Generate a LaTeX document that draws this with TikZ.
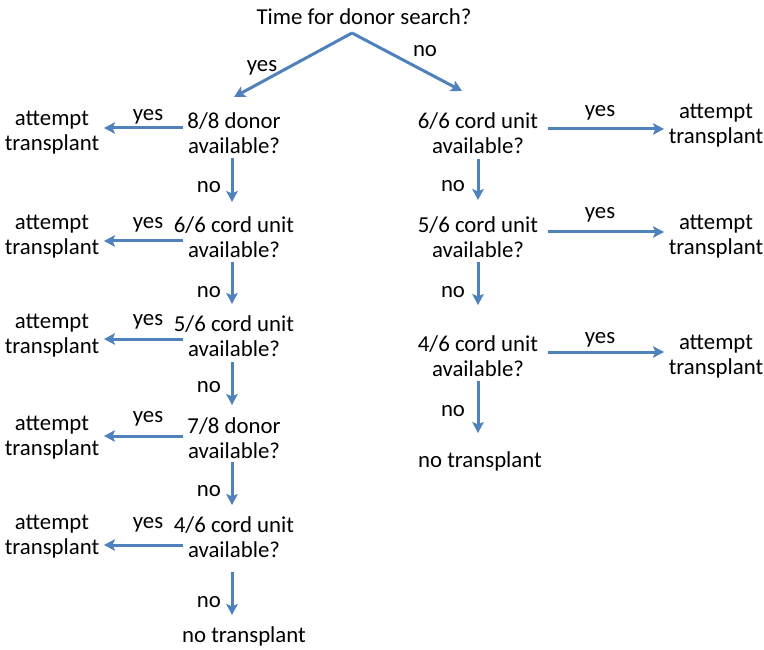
\documentclass[tikz,border=0pt]{standalone}
\usepackage{fontspec}
\setmainfont{Carlito}
\usetikzlibrary{arrows.meta}
\definecolor{arrowblue}{RGB}{79,129,189}
\begin{document}
\begin{tikzpicture}[x=1pt,y=-1pt,
  txt/.style={align=center,inner sep=0pt,font=\fontsize{22.8}{25}\selectfont},
  lbl/.style={inner sep=0pt,font=\fontsize{22.8}{25}\selectfont},
  arr/.style={draw=arrowblue,line width=3pt,-{Stealth[length=11pt,width=11.5pt,inset=2.5pt]}}]
\useasboundingbox[fill=white] (0,0) rectangle (764,650);
% title
\node[txt] (title) at (364,17) {Time for donor search?};
\coordinate (apex) at (352,33);
\coordinate (lt) at (234,97);
\coordinate (rt) at (462,91);
\draw[arr] (apex) -- (lt);
\draw[arr] (apex) -- (rt);
\node[lbl] (ytop) at (262,68) {yes};
\node[lbl] (ntop) at (425,51) {no};
% left column questions
\node[txt] (q1) at (234,133) {8/8 donor\\available?};
\node[txt] (q2) at (234,237) {6/6 cord unit\\available?};
\node[txt] (q3) at (234,336) {5/6 cord unit\\available?};
\node[txt] (q4) at (234,438) {7/8 donor\\available?};
\node[txt] (q5) at (234,537) {4/6 cord unit\\available?};
\node[txt] (nt1) at (244,636) {no transplant};
% left attempt
\node[txt] (a1) at (52,133) {attempt\\transplant};
\node[txt] (a2) at (52,237) {attempt\\transplant};
\node[txt] (a3) at (52,336) {attempt\\transplant};
\node[txt] (a4) at (52,438) {attempt\\transplant};
\node[txt] (a5) at (52,537) {attempt\\transplant};
% left yes arrows
\foreach \i/\yy/\ly in {1/128/117,2/241/225,3/339/322,4/436/419,5/545/525}{
  \coordinate (ls\i) at (183,\yy);
  \coordinate (le\i) at (104,\yy);
  \draw[arr] (ls\i) -- (le\i);
  \node[lbl] (ly\i) at (148,\ly) {yes};
}
% left down arrows
\foreach \i/\ys/\ye/\ny in {1/158/202/187,2/262/304/292,3/362/405/387,4/462/505/491,5/572/615/602}{
  \coordinate (ds\i) at (232,\ys);
  \coordinate (de\i) at (232,\ye);
  \draw[arr] (ds\i) -- (de\i);
  \node[lbl] (ln\i) at (209,\ny) {no};
}
% right column
\node[txt] (r1) at (478,133) {6/6 cord unit\\available?};
\node[txt] (r2) at (478,237) {5/6 cord unit\\available?};
\node[txt] (r3) at (478,356) {4/6 cord unit\\available?};
\node[txt] (nt2) at (480,461) {no transplant};
\node[txt] (b1) at (716,126) {attempt\\transplant};
\node[txt] (b2) at (716,237) {attempt\\transplant};
\node[txt] (b3) at (716,357) {attempt\\transplant};
\foreach \i/\yy/\ly in {1/129/113,2/232/215,3/352/340}{
  \coordinate (rs\i) at (548,\yy);
  \coordinate (re\i) at (664,\yy);
  \draw[arr] (rs\i) -- (re\i);
  \node[lbl] (ry\i) at (600,\ly) {yes};
}
\foreach \i/\ys/\ye/\ny in {1/159/200/186,2/262/305/292,3/381/433/411}{
  \coordinate (rds\i) at (478,\ys);
  \coordinate (rde\i) at (478,\ye);
  \draw[arr] (rds\i) -- (rde\i);
  \node[lbl] (rn\i) at (453,\ny) {no};
}
\end{tikzpicture}
\end{document}
